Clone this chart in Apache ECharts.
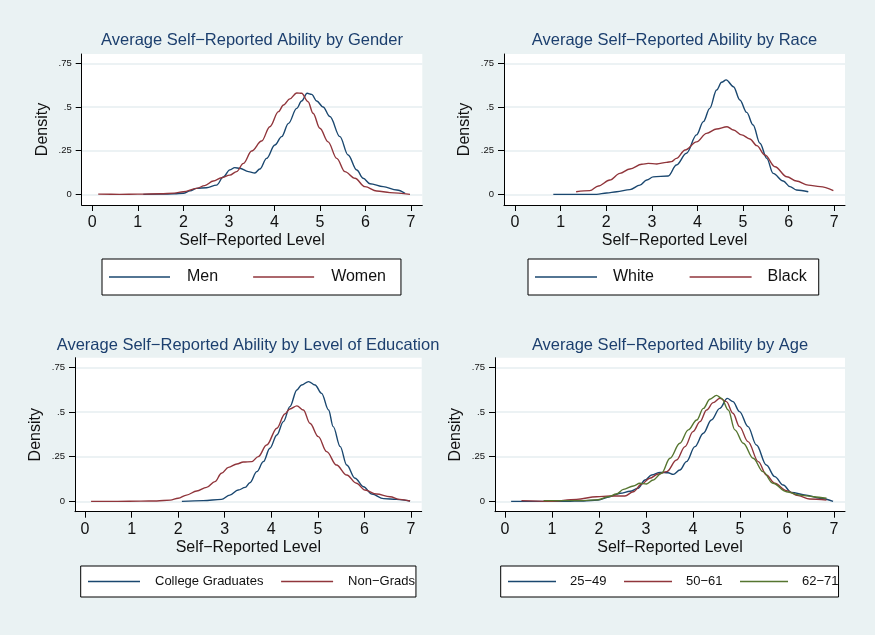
<!DOCTYPE html>
<html>
<head>
<meta charset="utf-8">
<script src="https://cdn.jsdelivr.net/npm/echarts@6/dist/echarts.min.js"></script>
<style>
  html, body { margin: 0; padding: 0; background: #eaf2f3; }
  #chartBox { width: 875px; height: 635px; }
</style>
</head>
<body>
<div id="chartBox"></div>
<script>
// tick labels
var xTicks = [0, 1, 2, 3, 4, 5, 6, 7];
var yTicks = [0, 0.25, 0.5, 0.75];

// panel 1: gender
var menX = [1.12, 1.5, 1.8, 2.0, 2.15, 2.29, 2.51, 2.73, 2.88, 3.02, 3.13, 3.24, 3.43, 3.57, 3.68, 3.83, 4.01, 4.16, 4.31, 4.49, 4.6, 4.72, 4.82, 4.93, 5.07, 5.22, 5.44, 5.62, 5.81, 5.95, 6.1, 6.39, 6.69, 6.87];
var menY = [0, 0.001, 0.003, 0.006, 0.02, 0.034, 0.038, 0.053, 0.1, 0.14, 0.153, 0.149, 0.13, 0.122, 0.145, 0.206, 0.282, 0.33, 0.406, 0.492, 0.534, 0.578, 0.572, 0.534, 0.5, 0.445, 0.33, 0.225, 0.139, 0.092, 0.061, 0.044, 0.025, 0.006];
var womenX = [0.13, 0.6, 1.0, 1.5, 1.8, 2.0, 2.29, 2.47, 2.66, 2.84, 3.02, 3.17, 3.32, 3.5, 3.72, 3.9, 4.09, 4.2, 4.34, 4.49, 4.6, 4.74, 4.85, 5.0, 5.18, 5.37, 5.55, 5.77, 5.99, 6.25, 6.54, 6.98];
var womenY = [0.001, 0, 0.001, 0.003, 0.007, 0.015, 0.034, 0.05, 0.076, 0.095, 0.11, 0.13, 0.177, 0.248, 0.305, 0.387, 0.473, 0.511, 0.546, 0.58, 0.578, 0.53, 0.464, 0.378, 0.3, 0.206, 0.13, 0.092, 0.044, 0.019, 0.01, 0];

// panel 2: race
var whiteX = [0.84, 1.3, 1.79, 2.01, 2.23, 2.52, 2.74, 2.89, 3.03, 3.36, 3.54, 3.76, 3.98, 4.13, 4.27, 4.42, 4.53, 4.63, 4.79, 4.93, 5.08, 5.22, 5.37, 5.52, 5.66, 5.88, 6.03, 6.17, 6.43];
var whiteY = [0, 0, 0, 0.008, 0.015, 0.027, 0.053, 0.082, 0.1, 0.105, 0.168, 0.235, 0.34, 0.416, 0.492, 0.597, 0.641, 0.655, 0.616, 0.54, 0.469, 0.397, 0.292, 0.206, 0.12, 0.076, 0.044, 0.025, 0.015];
var blackX = [1.34, 1.64, 1.83, 2.08, 2.3, 2.52, 2.78, 2.92, 3.11, 3.32, 3.43, 3.54, 3.73, 3.98, 4.2, 4.42, 4.65, 4.79, 4.97, 5.15, 5.3, 5.48, 5.7, 5.96, 6.17, 6.43, 6.69, 6.98];
var blackY = [0.015, 0.021, 0.048, 0.082, 0.12, 0.145, 0.172, 0.177, 0.174, 0.183, 0.187, 0.206, 0.254, 0.3, 0.349, 0.374, 0.387, 0.368, 0.34, 0.317, 0.279, 0.225, 0.158, 0.101, 0.076, 0.053, 0.044, 0.021];

// panel 3: education
var gradX = [2.08, 2.54, 2.93, 3.11, 3.29, 3.44, 3.54, 3.69, 3.83, 3.97, 4.12, 4.26, 4.4, 4.55, 4.65, 4.8, 4.94, 5.08, 5.23, 5.33, 5.48, 5.62, 5.8, 5.98, 6.16, 6.41, 6.69, 6.98];
var gradY = [0, 0.004, 0.011, 0.035, 0.063, 0.078, 0.104, 0.166, 0.222, 0.297, 0.371, 0.446, 0.53, 0.623, 0.651, 0.67, 0.651, 0.604, 0.511, 0.418, 0.306, 0.203, 0.129, 0.082, 0.041, 0.015, 0.011, 0.002];
var nonGradX = [0.13, 0.7, 1.2, 1.54, 1.83, 2.0, 2.18, 2.4, 2.61, 2.79, 2.93, 3.08, 3.26, 3.4, 3.58, 3.72, 3.9, 4.12, 4.29, 4.4, 4.55, 4.69, 4.83, 5.01, 5.19, 5.4, 5.62, 5.83, 6.01, 6.26, 6.55, 6.76, 6.98];
var nonGradY = [0, 0, 0.001, 0.002, 0.007, 0.017, 0.035, 0.058, 0.078, 0.11, 0.157, 0.19, 0.209, 0.22, 0.222, 0.25, 0.315, 0.409, 0.489, 0.517, 0.534, 0.511, 0.437, 0.362, 0.278, 0.203, 0.147, 0.101, 0.063, 0.041, 0.026, 0.011, 0.002];

// panel 4: age
var age25X = [0.13, 0.8, 1.3, 1.67, 1.98, 2.23, 2.45, 2.66, 2.83, 2.98, 3.12, 3.3, 3.47, 3.58, 3.72, 3.86, 4.04, 4.22, 4.39, 4.57, 4.73, 4.85, 4.99, 5.17, 5.35, 5.56, 5.74, 5.92, 6.09, 6.41, 6.7, 6.98];
var age25Y = [0, 0, 0, 0.002, 0.007, 0.026, 0.045, 0.056, 0.073, 0.119, 0.147, 0.162, 0.16, 0.151, 0.175, 0.222, 0.306, 0.381, 0.455, 0.52, 0.576, 0.558, 0.502, 0.418, 0.315, 0.203, 0.138, 0.091, 0.05, 0.035, 0.017, 0];
var age50X = [0.35, 0.96, 1.52, 1.95, 2.23, 2.55, 2.73, 2.91, 3.08, 3.26, 3.44, 3.65, 3.83, 4.0, 4.15, 4.29, 4.43, 4.57, 4.71, 4.85, 4.99, 5.17, 5.39, 5.56, 5.74, 5.99, 6.24, 6.48, 6.84];
var age50Y = [0.004, 0, 0.011, 0.026, 0.03, 0.03, 0.054, 0.097, 0.129, 0.153, 0.166, 0.231, 0.306, 0.39, 0.446, 0.511, 0.552, 0.576, 0.558, 0.493, 0.418, 0.334, 0.222, 0.147, 0.101, 0.06, 0.032, 0.013, 0.007];
var age62X = [0.82, 1.67, 1.98, 2.2, 2.37, 2.52, 2.73, 2.87, 3.01, 3.15, 3.33, 3.51, 3.72, 3.9, 4.08, 4.22, 4.36, 4.5, 4.61, 4.75, 4.89, 5.07, 5.28, 5.49, 5.7, 5.99, 6.27, 6.56, 6.84];
var age62Y = [0.004, 0.004, 0.009, 0.026, 0.041, 0.067, 0.086, 0.101, 0.097, 0.119, 0.157, 0.241, 0.325, 0.4, 0.455, 0.52, 0.571, 0.593, 0.576, 0.511, 0.4, 0.325, 0.241, 0.166, 0.101, 0.054, 0.035, 0.026, 0.017];

var NAVY = "#1a476f", MAROON = "#90353b", GREEN = "#55752f";
var FONT = "Liberation Sans, Arial, sans-serif";

function pairs(xs, ys) {
  return xs.map(function (x, i) { return [x, ys[i]]; });
}

// plot region of each panel, in px, and the axis range it covers
var panels = [
  { title: "Average Self\u2212Reported Ability by Gender", titleX: 252, titleY: 32,
    grid: { left: 81.7, top: 54, width: 340.6, height: 151 }, xMin: -0.233, xMax: 7.25, yMin: -0.061, yMax: 0.803,
    legend: { left: 102, top: 259, padding: [10, 15, 10, 7], itemWidth: 61, itemGap: 35, fontSize: 16, textPad: 12 },
    series: [["Men", menX, menY, NAVY], ["Women", womenX, womenY, MAROON]] },
  { title: "Average Self\u2212Reported Ability by Race", titleX: 674.5, titleY: 32,
    grid: { left: 504, top: 54, width: 341, height: 151 }, xMin: -0.241, xMax: 7.235, yMin: -0.061, yMax: 0.803,
    legend: { left: 528, top: 259, padding: [10, 12, 10, 7], itemWidth: 62, itemGap: 35.7, fontSize: 16, textPad: 11 },
    series: [["White", whiteX, whiteY, NAVY], ["Black", blackX, blackY, MAROON]] },
  { title: "Average Self\u2212Reported Ability by Level of Education", titleX: 248, titleY: 337,
    grid: { left: 75, top: 357.7, width: 346.7, height: 154 }, xMin: -0.215, xMax: 7.23, yMin: -0.058, yMax: 0.8036,
    legend: { left: 80.7, top: 566, padding: [9, 1, 9, 7.3], itemWidth: 52, itemGap: 17.7, fontSize: 13, textPad: 10 },
    series: [["College Graduates", gradX, gradY, NAVY], ["Non\u2212Grads", nonGradX, nonGradY, MAROON]] },
  { title: "Average Self\u2212Reported Ability by Age", titleX: 670, titleY: 337,
    grid: { left: 495, top: 357.7, width: 350, height: 154 }, xMin: -0.213, xMax: 7.234, yMin: -0.058, yMax: 0.8036,
    legend: { left: 500.7, top: 566, padding: [9, 0, 9, 7.3], itemWidth: 48, itemGap: 17.5, fontSize: 13, textPad: 9 },
    series: [["25\u221249", age25X, age25Y, NAVY], ["50\u221261", age50X, age50Y, MAROON], ["62\u221271", age62X, age62Y, GREEN]] }
];

var option = {
  backgroundColor: "#eaf2f3",
  animation: false,
  title: [], grid: [], xAxis: [], yAxis: [], legend: [], series: []
};

panels.forEach(function (p, i) {
  option.title.push({
    text: p.title, left: p.titleX, top: p.titleY, textAlign: "center", padding: 0,
    textStyle: { color: "#1c3f6e", fontFamily: FONT, fontSize: 16.5, fontWeight: "normal" }
  });
  option.grid.push({
    left: p.grid.left, top: p.grid.top, width: p.grid.width, height: p.grid.height,
    show: true, backgroundColor: "#fff", borderWidth: 0
  });
  option.xAxis.push({
    type: "value", gridIndex: i, min: p.xMin, max: p.xMax,
    name: "Self\u2212Reported Level", nameLocation: "middle", nameGap: 28,
    nameTextStyle: { color: "#111", fontFamily: FONT, fontSize: 16 },
    axisLine: { onZero: false, lineStyle: { color: "#000", width: 1 } },
    axisTick: { customValues: xTicks, length: 6, lineStyle: { color: "#000" } },
    axisLabel: { customValues: xTicks, color: "#111", fontFamily: FONT, fontSize: 16, margin: 10 },
    splitLine: { show: false }
  });
  option.yAxis.push({
    type: "value", gridIndex: i, min: p.yMin, max: p.yMax,
    name: "Density", nameLocation: "middle", nameGap: 31,
    nameTextStyle: { color: "#111", fontFamily: FONT, fontSize: 16 },
    axisLine: { show: true, onZero: false, lineStyle: { color: "#000", width: 1 } },
    axisTick: { show: true, customValues: yTicks, length: 6, lineStyle: { color: "#000" } },
    axisLabel: {
      customValues: yTicks, color: "#111", fontFamily: FONT, fontSize: 9.5, margin: 10,
      formatter: function (v) { return v === 0 ? "0" : String(v).replace(/^0/, ""); }
    },
    splitLine: { show: true, lineStyle: { color: "#e6eef0", width: 1.5 } }
  });
  option.legend.push({
    left: p.legend.left, top: p.legend.top, orient: "horizontal",
    padding: p.legend.padding, itemWidth: p.legend.itemWidth, itemHeight: 1.6, itemGap: p.legend.itemGap,
    icon: "rect",
    backgroundColor: "#fff", borderColor: "#000", borderWidth: 1, borderRadius: 0,
    data: p.series.map(function (s) { return s[0]; }),
    textStyle: { color: "#111", fontFamily: FONT, fontSize: p.legend.fontSize, padding: [0, 0, 0, p.legend.textPad] }
  });
  p.series.forEach(function (s) {
    option.series.push({
      name: s[0], type: "line", xAxisIndex: i, yAxisIndex: i,
      data: pairs(s[1], s[2]), symbol: "none", smooth: 0.35, smoothMonotone: "x",
      lineStyle: { color: s[3], width: 1.4 }, itemStyle: { color: s[3] }
    });
  });
});

var chartLine = echarts.init(document.getElementById("chartBox"));
chartLine.setOption(option);
</script>
</body>
</html>
